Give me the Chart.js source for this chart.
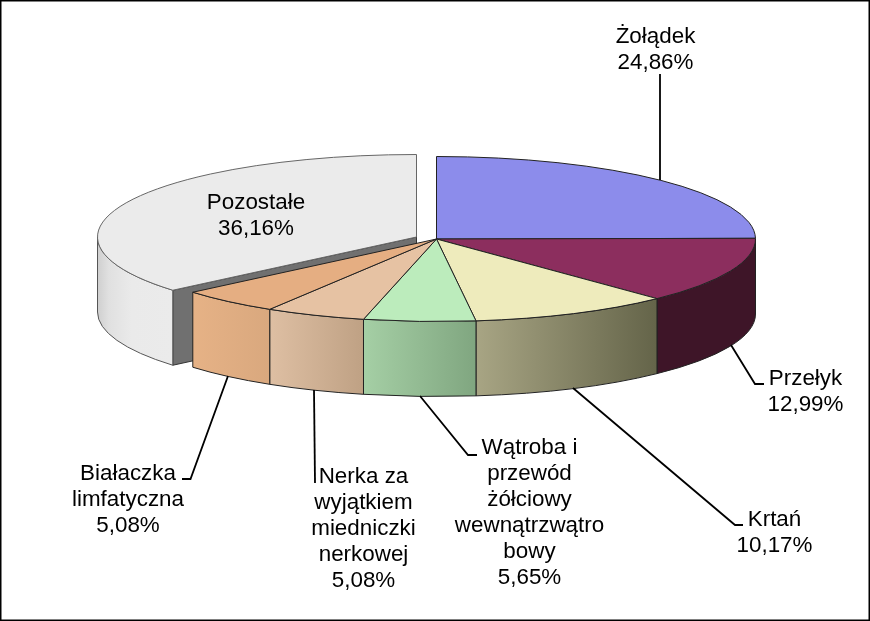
<!DOCTYPE html>
<html><head><meta charset="utf-8">
<style>html,body{margin:0;padding:0;background:#fff}canvas{display:block}</style>
<script src="https://cdn.jsdelivr.net/npm/chart.js@4"></script>
</head><body><canvas id="c" width="870" height="621"></canvas>
<script>
const categories = [['Żołądek'],['Przełyk'],['Krtań'],['Wątroba i','przewód','żółciowy','wewnątrzwątro','bowy'],['Nerka za','wyjątkiem','miedniczki','nerkowej'],['Białaczka','limfatyczna'],['Pozostałe']];
const values = [24.86,12.99,10.17,5.65,5.08,5.08,36.16];
const topColors = ['#8C8CEB','#8C2E5E','#EEEBBC','#BCECBC','#E6C2A3','#E5AE82','#EBEBEB'];
const wallStops = [['#8C8CEB','#8C8CEB'],['#3E1528','#3E1528'],['#A8A584','#646449'],['#A5CFA5','#80A680'],['#DEBFA3','#BFA184'],['#E6B286','#D9A87E'],['#CFCFCF','#E0E0E0','#EAEAEA','#EBEBEB']];
const wallStopAt = [[0,1],[0,1],[0,1],[0,1],[0,1],[0,1],[0,.15,.45,1]];
const labelCentres = [655.5,805.5,774.5,529.5,363.5,128,256];
const labelBaselines = [43,385,526,454,483,480,209];
const leaders = [
 [[660,74],[660,180]],
 [[731,345],[755,384],[764,384]],
 [[573,388],[735,525],[743,525]],
 [[420,396],[468,455],[477,455]],
 [[314,390],[315,483]],
 [[228,376],[190.5,479],[182,479]]
];
const RX=319, RY=82.5, DEPTH=75, MAIN=[436.5,239], APART=[416.5,237], APART_INDEX=6, LINE_H=26;
const FONT='22.4px "Liberation Sans", Arial, sans-serif';

function place(ctx,arc,c){ctx.translate(c[0],c[1]);ctx.scale(1,RY/RX);ctx.translate(-arc.x,-arc.y);}
function wall(ctx,arc,i,c){
  let a0=arc.startAngle,a1=arc.endAngle;
  const t=2*Math.PI; while(a0>=Math.PI){a0-=t;a1-=t;} while(a1<0){a0+=t;a1+=t;}
  a0=Math.max(a0,0);a1=Math.min(a1,Math.PI);
  if(a1<=a0) return;
  const xRight=c[0]+RX*Math.cos(a0),xLeft=c[0]+RX*Math.cos(a1);
  const g=ctx.createLinearGradient(xLeft,0,xRight,0);
  wallStops[i].forEach((s,k)=>g.addColorStop(wallStopAt[i][k],s));
  ctx.beginPath();
  ctx.ellipse(c[0],c[1],RX,RY,0,a0,a1);
  ctx.ellipse(c[0],c[1]+DEPTH,RX,RY,0,a1,a0,true);
  ctx.closePath();
  ctx.fillStyle=g;ctx.fill();
  ctx.lineWidth=1;ctx.strokeStyle=i===APART_INDEX?'#555':'#222';ctx.stroke();
}
function topFace(ctx,arc,c,i){
  ctx.save();place(ctx,arc,c);arc.draw(ctx);ctx.restore();
  const a0=arc.startAngle,a1=arc.endAngle;
  ctx.beginPath();ctx.moveTo(c[0],c[1]);
  ctx.ellipse(c[0],c[1],RX,RY,0,a0,a1);ctx.closePath();
  ctx.lineWidth=1;ctx.strokeStyle=i===APART_INDEX?'#666':'#222';ctx.stroke();
}
const pie3d={id:'pie3d',
  beforeDatasetDraw(chart){
    const ctx=chart.ctx,arcs=chart.getDatasetMeta(0).data;
    const poz=arcs[APART_INDEX],c=APART;
    ctx.save();
    const xa=c[0]+RX*Math.cos(poz.startAngle),ya=c[1]+RY*Math.sin(poz.startAngle);
    ctx.beginPath();ctx.moveTo(c[0],c[1]);ctx.lineTo(xa,ya);ctx.lineTo(xa,ya+DEPTH);ctx.lineTo(c[0],c[1]+DEPTH);ctx.closePath();
    ctx.fillStyle='#707070';ctx.fill();ctx.lineWidth=1;ctx.strokeStyle='#333';ctx.stroke();
    wall(ctx,poz,APART_INDEX,c);
    topFace(ctx,poz,c,APART_INDEX);
    arcs.forEach((a,i)=>{if(i!==APART_INDEX)wall(ctx,a,i,MAIN);});
    arcs.forEach((a,i)=>{if(i!==APART_INDEX)topFace(ctx,a,MAIN,i);});
    ctx.restore();
    return false;
  },
  afterDraw(chart){
    const ctx=chart.ctx;
    ctx.save();
    ctx.strokeStyle='#000';ctx.lineWidth=1.8;ctx.lineJoin='miter';
    leaders.forEach(l=>{ctx.beginPath();l.forEach((p,k)=>k?ctx.lineTo(p[0],p[1]):ctx.moveTo(p[0],p[1]));ctx.stroke();});
    ctx.fillStyle='#000';ctx.font=FONT;ctx.textAlign='center';ctx.textBaseline='alphabetic';
    categories.forEach((lines,i)=>{
      const all=[...lines,values[i].toFixed(2).replace('.',',')+'%'];
      all.forEach((t,k)=>ctx.fillText(t,labelCentres[i],labelBaselines[i]+k*LINE_H));
    });
    ctx.lineWidth=2;ctx.strokeRect(0.5,0.5,869,620);
    ctx.restore();
  }
};
new Chart(document.getElementById('c'),{
  type:'pie',
  data:{labels:categories,datasets:[{data:values,backgroundColor:topColors,borderWidth:0}]},
  options:{responsive:false,devicePixelRatio:1,animation:false,radius:RX,
    layout:{padding:0},
    plugins:{legend:{display:false},tooltip:{enabled:false},title:{display:false}},
    events:[]},
  plugins:[pie3d]
});
</script></body></html>
